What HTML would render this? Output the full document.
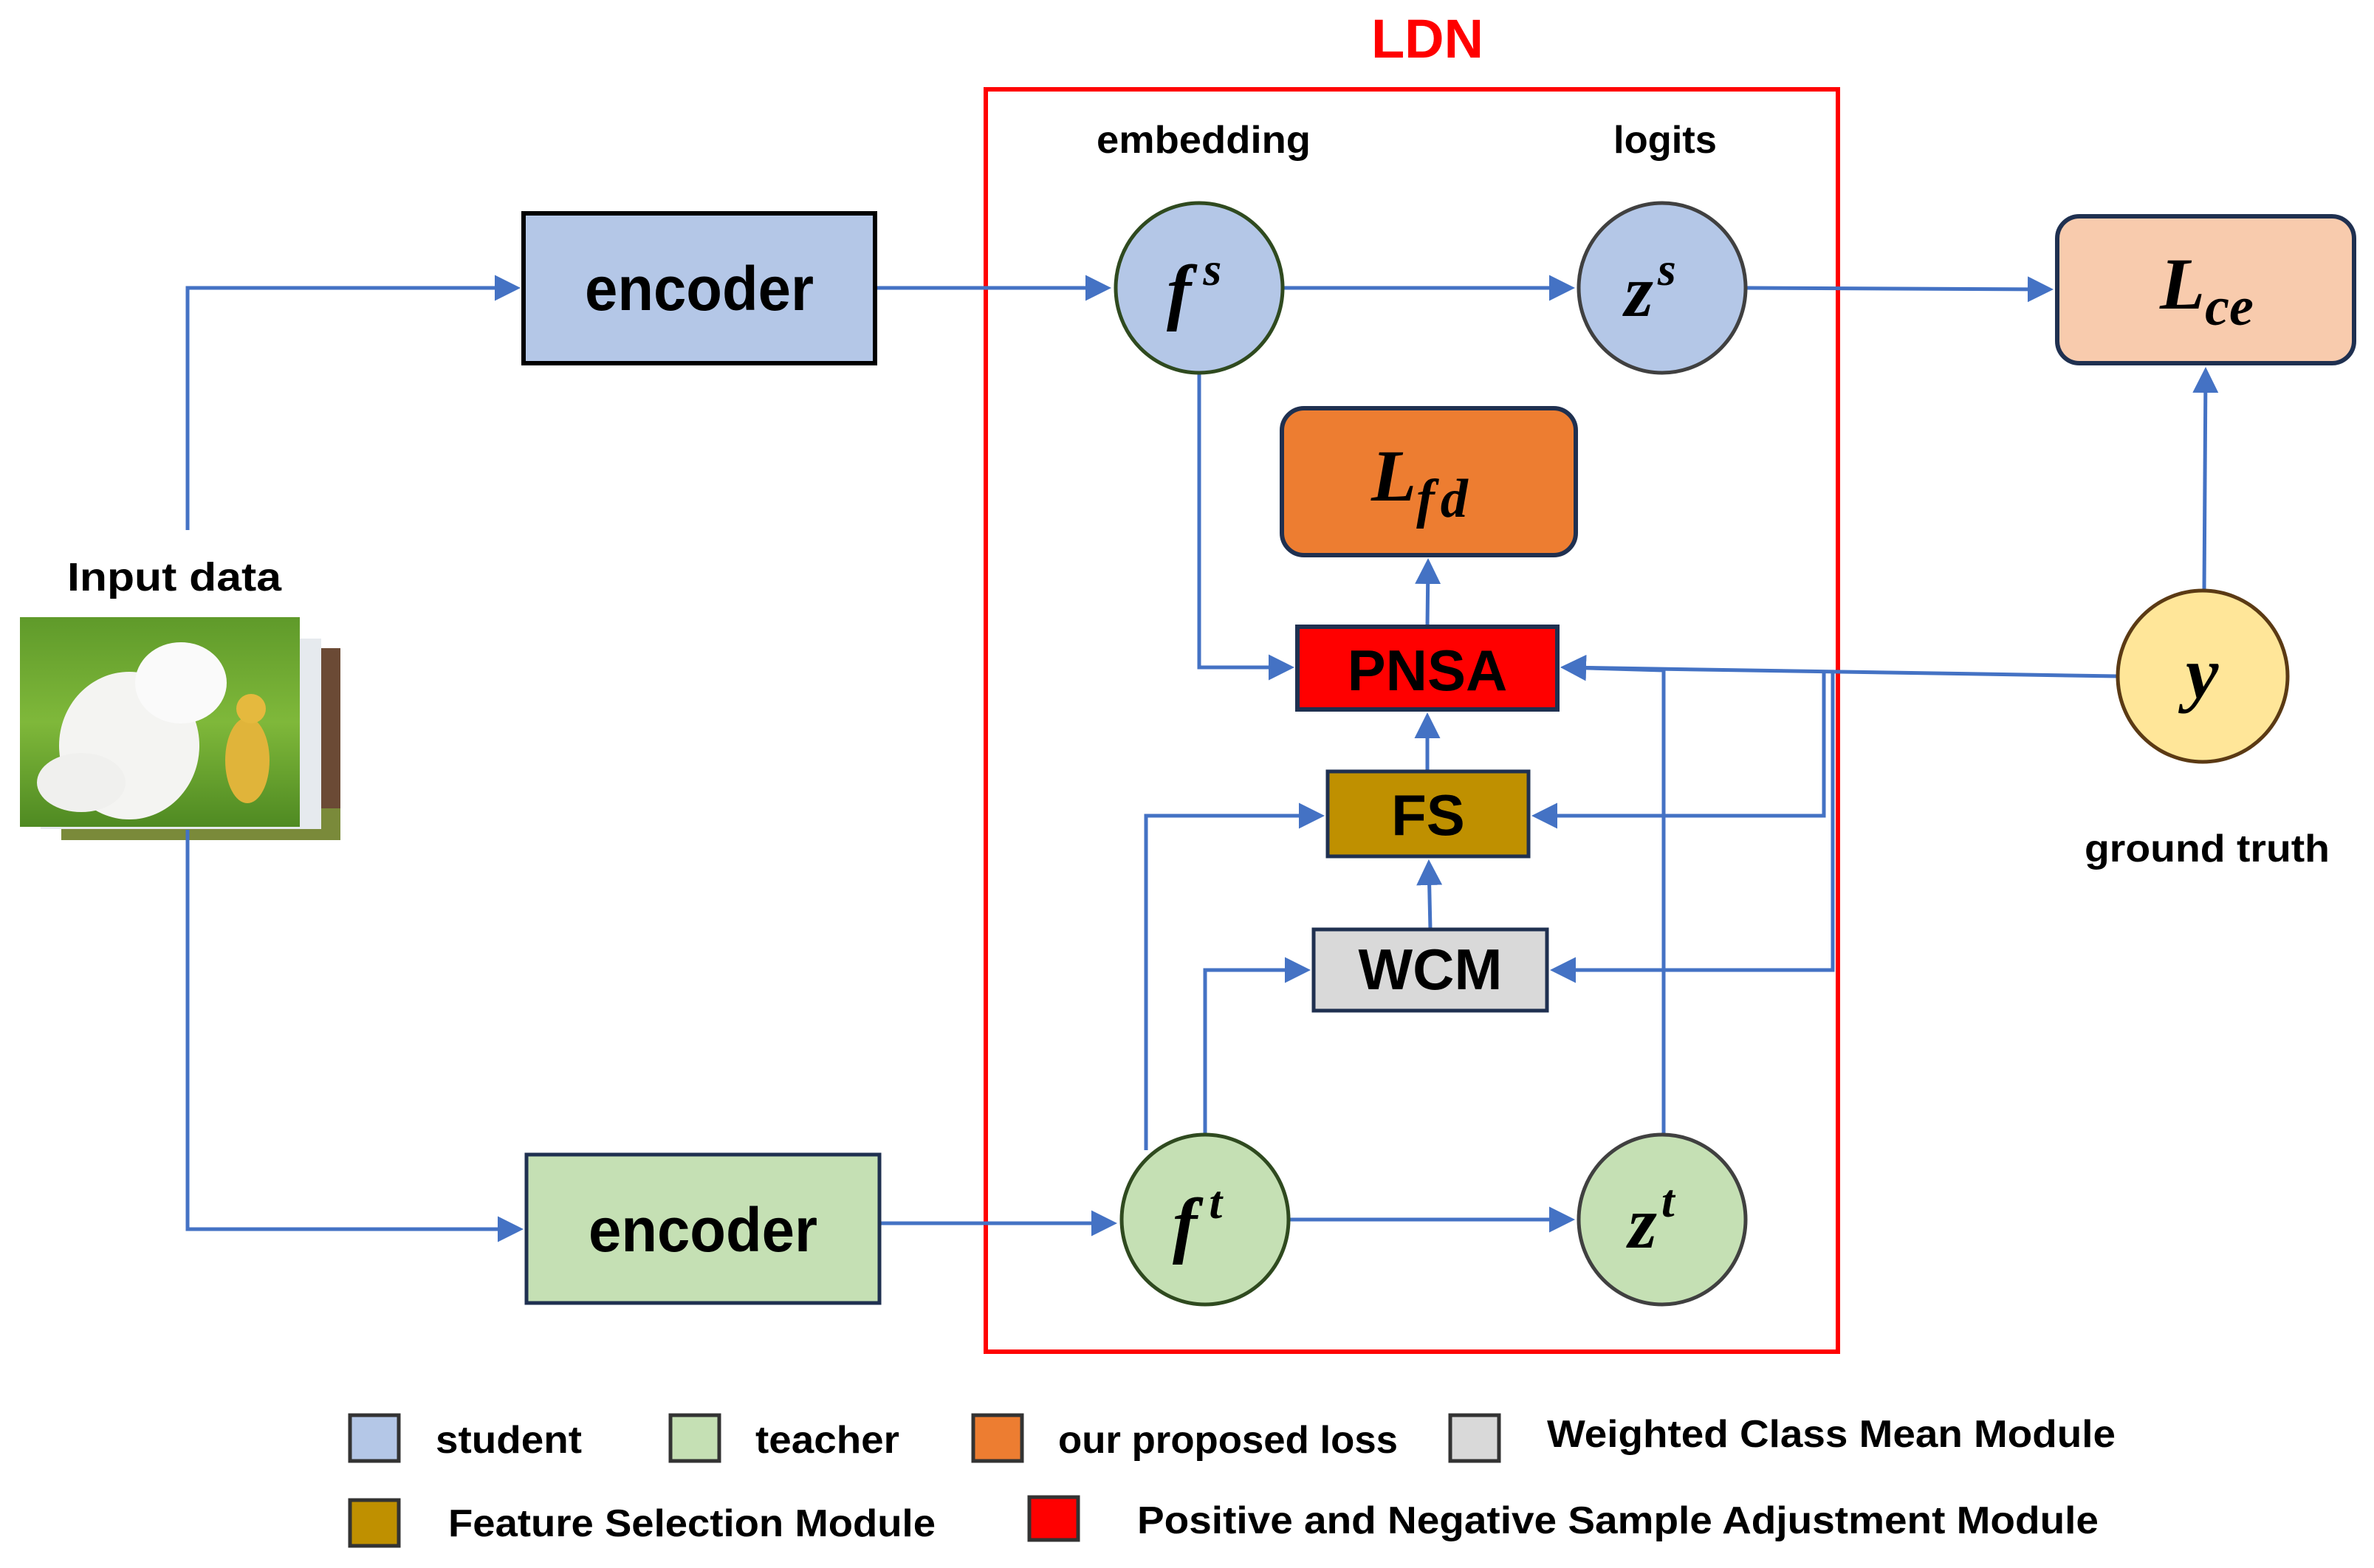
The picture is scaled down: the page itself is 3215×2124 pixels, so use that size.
<!DOCTYPE html>
<html><head><meta charset="utf-8"><style>html,body{margin:0;padding:0;background:#fff}svg{display:block}</style></head>
<body>
<svg width="3215" height="2124" viewBox="0 0 3215 2124" xmlns="http://www.w3.org/2000/svg">
<defs>
<marker id="a" markerWidth="7" markerHeight="7" refX="6" refY="3.5" orient="auto" markerUnits="strokeWidth"><path d="M0,0 L7,3.5 L0,7 z" fill="#4472c4"/></marker>
<linearGradient id="grass" x1="0" y1="0" x2="0" y2="1"><stop offset="0" stop-color="#5f9a2a"/><stop offset="0.5" stop-color="#7fb83a"/><stop offset="1" stop-color="#4f8a22"/></linearGradient>
</defs>
<g font-family="Liberation Sans, sans-serif" font-weight="bold" fill="#000">
<text x="1933" y="78" font-size="74" fill="#ff0000" text-anchor="middle">LDN</text>
<text x="1630" y="207" font-size="52" text-anchor="middle" textLength="290" lengthAdjust="spacingAndGlyphs">embedding</text>
<text x="2255" y="207" font-size="52" text-anchor="middle" textLength="140" lengthAdjust="spacingAndGlyphs">logits</text>
<text x="236" y="800" font-size="54" text-anchor="middle" textLength="290" lengthAdjust="spacingAndGlyphs">Input data</text>
<text x="2989" y="1167" font-size="52" text-anchor="middle" textLength="332" lengthAdjust="spacingAndGlyphs">ground truth</text>
</g>
<rect x="1335" y="121" width="1154" height="1710" fill="none" stroke="#ff0000" stroke-width="6"/>

<rect x="83" y="878" width="378" height="260" fill="#6b4a35"/>
<rect x="83" y="1095" width="378" height="43" fill="#7a8a3a"/>
<rect x="55" y="865" width="380" height="258" fill="#e6eaee"/>
<rect x="27" y="836" width="379" height="284" fill="url(#grass)"/>
<ellipse cx="175" cy="1010" rx="95" ry="100" fill="#f4f4f2"/>
<ellipse cx="245" cy="925" rx="62" ry="55" fill="#fafafa"/>
<ellipse cx="110" cy="1060" rx="60" ry="40" fill="#f0f0ee"/>
<ellipse cx="335" cy="1030" rx="30" ry="58" fill="#e0b43a"/>
<circle cx="340" cy="960" r="20" fill="#e5b93e"/>

<g stroke="#4472c4" stroke-width="5" fill="none">
<polyline points="254,718 254,390 700,390" marker-end="url(#a)"/>
<polyline points="254,1124 254,1665 704,1665" marker-end="url(#a)"/>
<line x1="1185" y1="390" x2="1500" y2="390" marker-end="url(#a)"/>
<line x1="1191" y1="1657" x2="1508" y2="1657" marker-end="url(#a)"/>
<line x1="1738" y1="390" x2="2128" y2="390" marker-end="url(#a)"/>
<line x1="2366" y1="390" x2="2776" y2="392" marker-end="url(#a)"/>
<line x1="1746" y1="1652" x2="2128" y2="1652" marker-end="url(#a)"/>
<polyline points="1624,506 1624,904 1748,904" marker-end="url(#a)"/>
<line x1="1933" y1="849" x2="1934" y2="761" marker-end="url(#a)"/>
<line x1="1933" y1="1045" x2="1933" y2="970" marker-end="url(#a)"/>
<line x1="1937" y1="1259" x2="1935" y2="1169" marker-end="url(#a)"/>
<polyline points="1552,1558 1552,1105 1789,1105" marker-end="url(#a)"/>
<polyline points="1632,1537 1632,1314 1770,1314" marker-end="url(#a)"/>
<polyline points="2253,1537 2253,908 2118,904" marker-end="url(#a)"/>
<line x1="2868" y1="916" x2="2118" y2="904" marker-end="url(#a)"/>
<polyline points="2470,912 2470,1105 2079,1105" marker-end="url(#a)"/>
<polyline points="2482,912 2482,1314 2104,1314" marker-end="url(#a)"/>
<line x1="2985" y1="800" x2="2987" y2="502" marker-end="url(#a)"/>
</g>

<rect x="709" y="289" width="476" height="203" fill="#b4c7e7" stroke="#000" stroke-width="6"/>
<rect x="713" y="1564" width="478" height="201" fill="#c5e0b4" stroke="#1f3050" stroke-width="5"/>
<g font-family="Liberation Sans, sans-serif" font-weight="bold" font-size="84" text-anchor="middle">
<text x="947" y="420" textLength="310" lengthAdjust="spacingAndGlyphs">encoder</text>
<text x="952" y="1695" textLength="310" lengthAdjust="spacingAndGlyphs">encoder</text>
</g>

<ellipse cx="1624" cy="390" rx="113" ry="115" fill="#b4c7e7" stroke="#2f4a1f" stroke-width="5"/>
<ellipse cx="2251" cy="390" rx="113" ry="115" fill="#b4c7e7" stroke="#404040" stroke-width="5"/>
<ellipse cx="1632" cy="1652" rx="113" ry="115" fill="#c5e0b4" stroke="#2f4a1f" stroke-width="5"/>
<ellipse cx="2251" cy="1652" rx="113" ry="115" fill="#c5e0b4" stroke="#404040" stroke-width="5"/>
<ellipse cx="2983" cy="916" rx="115" ry="116" fill="#ffe699" stroke="#5b3a14" stroke-width="5"/>

<rect x="2786" y="293" width="402" height="199" rx="30" fill="#f8cbad" stroke="#1f3050" stroke-width="6"/>
<rect x="1736" y="553" width="398" height="199" rx="30" fill="#ed7d31" stroke="#1f3050" stroke-width="6"/>
<rect x="1757" y="849" width="352" height="112" fill="#ff0000" stroke="#1f3050" stroke-width="6"/>
<rect x="1798" y="1045" width="272" height="115" fill="#bf9000" stroke="#1f3050" stroke-width="5"/>
<rect x="1779" y="1259" width="316" height="110" fill="#d9d9d9" stroke="#1f3050" stroke-width="5"/>

<g font-family="Liberation Sans, sans-serif" font-weight="bold" font-size="78" text-anchor="middle">
<text x="1933" y="935">PNSA</text>
<text x="1934" y="1131">FS</text>
<text x="1937" y="1340">WCM</text>
</g>

<g font-family="Liberation Serif, serif" font-weight="bold" font-style="italic" font-size="100">
<text x="1580" y="428">f<tspan font-size="64" dx="16" dy="-42">s</tspan></text>
<text x="2200" y="428">z<tspan font-size="64" dx="6" dy="-42">s</tspan></text>
<text x="1588" y="1692">f<tspan font-size="64" dx="16" dy="-42">t</tspan></text>
<text x="2205" y="1690">z<tspan font-size="64" dx="6" dy="-42">t</tspan></text>
<text x="2960" y="945">y</text>
<text x="2925" y="418">L<tspan font-size="74" dy="22">ce</tspan></text>
<text x="1857" y="678">L<tspan font-size="74" dy="22" letter-spacing="8">fd</tspan></text>
</g>

<g stroke="#333" stroke-width="5">
<rect x="474" y="1917" width="66" height="62" fill="#b4c7e7"/>
<rect x="908" y="1917" width="66" height="62" fill="#c5e0b4"/>
<rect x="1318" y="1917" width="66" height="62" fill="#ed7d31"/>
<rect x="1964" y="1917" width="66" height="62" fill="#d9d9d9"/>
<rect x="474" y="2032" width="66" height="62" fill="#bf9000"/>
<rect x="1394" y="2028" width="66" height="58" fill="#ff0000"/>
</g>
<g font-family="Liberation Sans, sans-serif" font-weight="bold" font-size="52">
<text x="590" y="1968" textLength="198" lengthAdjust="spacingAndGlyphs">student</text>
<text x="1023" y="1968" textLength="195" lengthAdjust="spacingAndGlyphs">teacher</text>
<text x="1433" y="1968" textLength="460" lengthAdjust="spacingAndGlyphs">our proposed loss</text>
<text x="2095" y="1960" textLength="770" lengthAdjust="spacingAndGlyphs">Weighted Class Mean Module</text>
<text x="607" y="2081" textLength="660" lengthAdjust="spacingAndGlyphs">Feature Selection Module</text>
<text x="1540" y="2077" textLength="1302" lengthAdjust="spacingAndGlyphs">Positive and Negative Sample Adjustment  Module</text>
</g>
</svg>
</body></html>
